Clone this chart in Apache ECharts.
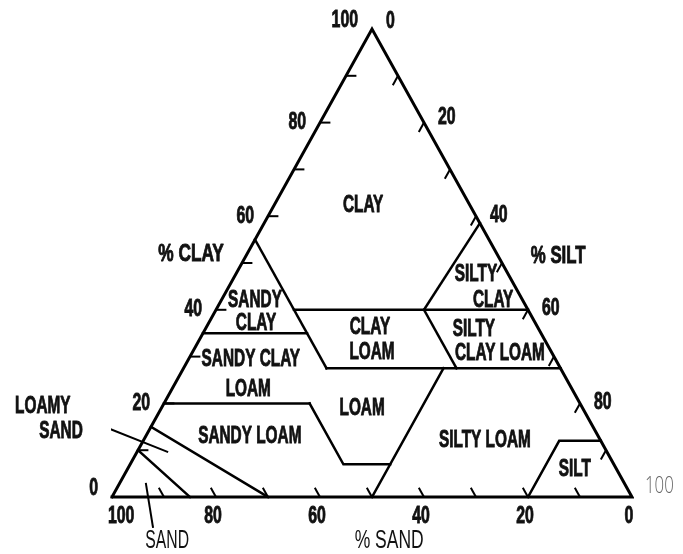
<!DOCTYPE html>
<html>
<head>
<meta charset="utf-8">
<script src="https://cdn.jsdelivr.net/npm/echarts@6/dist/echarts.min.js"></script>
<style>
  html, body { margin: 0; background: #fff; }
  #chart { width: 683px; height: 554px; }
</style>
</head>
<body>
<div id="chart"></div>
<script>
// === Datos: puntos ternarios como [clay, silt]  (sand = 100 - clay - silt) ===
const outline = [[0, 0], [0, 100], [100, 0], [0, 0]];
const boundaries = [
  [[55, 0], [27.5, 27.5]],            // sand 45 (sandy clay / clay / clay loam)
  [[35, 0], [35, 20]],                // sandy clay / sandy clay loam
  [[40, 15], [40, 60]],               // clay 40
  [[40, 40], [58.5, 41.5]],           // clay / silty clay
  [[40, 40], [27.5, 52.5]],           // sand 20 (clay loam / silty clay loam)
  [[27.5, 27.5], [27.5, 72.5]],       // clay 27.5
  [[20, 0], [20, 28]],                // clay 20
  [[20, 28], [7, 41], [7, 50]],       // loam, lower left side + bottom
  [[0, 50], [27.5, 50]],              // silt 50
  [[0, 80], [12, 80], [12, 88]],      // silt
  [[15, 0], [0, 30]],                 // loamy sand
  [[10, 0], [0, 15]]                  // sand
];
const tickValues = [10, 20, 30, 40, 50, 60, 70, 80, 90];
const clayLabels = ['0', '20', '40', '60', '80', '100'];   // left edge
const siltLabels = ['0', '20', '40', '60', '80', '100'];   // right edge
const sandLabels = ['100', '80', '60', '40', '20', '0'];   // bottom edge
const regionNames = ['CLAY', 'SANDY', 'CLAY', 'CLAY', 'LOAM', 'SILTY', 'CLAY', 'SILTY', 'CLAY LOAM',
  'SANDY CLAY', 'LOAM', 'LOAM', 'SANDY LOAM', 'SILTY LOAM', 'SILT', 'LOAMY', 'SAND'];

// === Layout (posiciones de textos en unidades del gráfico) ===
const regionAnchors = [[48.3, 62.3], [27.5, 42.1], [27.7, 37.0], [49.6, 36.3], [50.0, 30.8],
  [70.0, 47.6], [73.3, 42.1], [69.6, 35.9], [74.6, 30.6], [26.7, 29.5], [26.2, 22.9],
  [48.1, 19.0], [26.5, 13.0], [71.7, 12.2], [89.0, 5.8], [-13.3, 19.4], [-9.8, 14.1]];
const annotations = [[[-4.8, 16.5], [10.8, 9.6]], [[6.5, 3.0], [7.9, -6.6]]]; // LOAMY SAND / SAND pointers

const tern = ([clay, silt]) => [silt + clay / 2, clay];

const boldTxt = { fontFamily: '"Liberation Sans", Arial, sans-serif', fontWeight: 'bold', fontSize: 24,
  fill: '#111', stroke: '#111', lineWidth: 0.9 };
const plainTxt = { fontFamily: '"Liberation Sans", Arial, sans-serif', fontWeight: 'normal', fontSize: 25, fill: '#111' };

function path(points, width){
  return { type: 'line', data: points.map(tern), symbol: 'none', clip: false, silent: true,
    lineStyle: { color: '#000', width: width, cap: 'square', join: 'miter' } };
}

const ticks = [];
tickValues.forEach(v => {
  ticks.push([[v, 0], [v, 2]]);                 // % clay, horizontal into triangle
  ticks.push([[100 - v, v], [98 - v, v]]);      // % silt, down-left
  ticks.push([[0, 100 - v], [2, 98 - v]]);      // % sand, up-left
});

const series = [
  path(outline, 3),
  ...boundaries.map(b => path(b, 2.5)),
  ...ticks.map(t => ({ ...path(t, 2), lineStyle: { color: '#000', width: 2 } })),
  ...annotations.map(a => ({ type: 'line', data: a, symbol: 'none', clip: false, silent: true,
    lineStyle: { color: '#000', width: 2 } }))
];

const chart = echarts.init(document.getElementById('chart'));
chart.setOption({
  animation: false,
  grid: { left: 112, right: 51, top: 29, bottom: 57 },
  xAxis: { type: 'value', min: 0, max: 100, show: false },
  yAxis: { type: 'value', min: 0, max: 100, show: false },
  series
});

// === Textos (graphic con escala horizontal para simular tipografía condensada) ===
const px = p => chart.convertToPixel({ gridIndex: 0 }, p);
function txt(pos, text, style, sx, align){
  return { type: 'text', x: pos[0], y: pos[1], scaleX: sx, silent: true,
    style: { ...style, text, x: 0, y: 0, align: align || 'center', verticalAlign: 'middle' } };
}
const g = [];

regionNames.forEach((n, i) => g.push(txt(px(regionAnchors[i]), n, boldTxt, 0.64)));

clayLabels.forEach(l => {
  const v = +l, p = px(tern([v, 0]));
  const dy = (v === 0 || v === 100) ? -9 : 0;
  g.push(txt([p[0] - 14, p[1] + dy], l, boldTxt, 0.66, 'right'));
});
siltLabels.forEach(l => {
  const v = +l, p = px(tern([100 - v, v]));
  if (v === 100) {
    g.push(txt([p[0] + 13, p[1] - 11], l, { fontFamily: '"Open Sans", sans-serif', fontWeight: 300, fontSize: 24, fill: '#666' }, 0.7, 'left'));
    return;
  }
  const dy = v === 0 ? -8 : v === 20 ? -5 : -1;
  g.push(txt([p[0] + 14, p[1] + dy], l, boldTxt, 0.66, 'left'));
});
sandLabels.forEach(l => {
  const v = +l, p = px(tern([0, 100 - v]));
  if (v === 100) g.push(txt([p[0] - 4, p[1] + 19], l, boldTxt, 0.66, 'left'));
  else g.push(txt([p[0] - 3, p[1] + 19], l, boldTxt, 0.66));
});

g.push(txt(px([15.2, 51.9]), '% CLAY', boldTxt, 0.72));
g.push(txt(px([85.8, 51.5]), '% SILT', boldTxt, 0.7));
g.push(txt(px([53.3, -9.4]), '% SAND', plainTxt, 0.7));
g.push(txt(px([10.6, -9.4]), 'SAND', plainTxt, 0.63));

chart.setOption({ graphic: g });
</script>
</body>
</html>
